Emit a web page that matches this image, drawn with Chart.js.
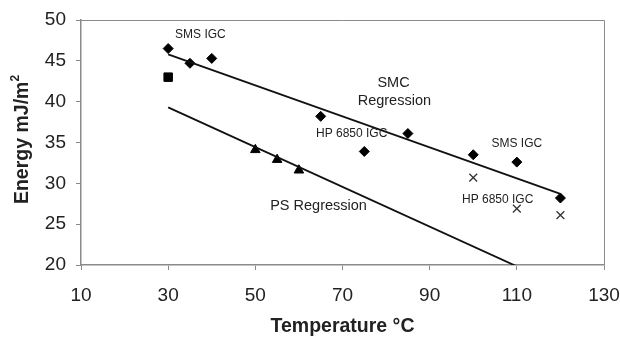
<!DOCTYPE html>
<html>
<head>
<meta charset="utf-8">
<script src="https://cdn.jsdelivr.net/npm/chart.js@4"></script>
<style>
html,body{margin:0;padding:0;background:#fff;}
#wrap{width:620px;height:343px;}
</style>
</head>
<body>
<div id="wrap"><canvas id="c" width="620" height="343"></canvas></div>
<script>
// ---- data ----
const smcTemps = [30, 35, 40, 65, 75, 85, 100, 110, 120];
const smcEnergy = [46.5, 44.7, 45.3, 38.2, 33.9, 36.1, 33.5, 32.6, 28.2];
const hpTemps = [100, 110, 120];
const hpEnergy = [30.7, 26.9, 26.1];
const squareTemps = [30];
const squareEnergy = [43.0];
const psTemps = [50, 55, 60];
const psEnergy = [34.1, 32.9, 31.6];
const smcRegTemps = [30, 120];
const smcRegEnergy = [45.8, 28.7];
const psRegTemps = [30, 120];
const psRegEnergy = [39.3, 17.4];
const xTicks = [10, 30, 50, 70, 90, 110, 130];
const yTicks = [20, 25, 30, 35, 40, 45, 50];
const annotations = [
  {text: 'SMS IGC', x: 37.4, y: 48.2, size: 12},
  {text: 'SMC', x: 81.7, y: 42.3, size: 14.5},
  {text: 'Regression', x: 81.9, y: 40.1, size: 14.5},
  {text: 'HP 6850 IGC', x: 72.1, y: 36.05, size: 12},
  {text: 'SMS IGC', x: 110.0, y: 34.8, size: 12},
  {text: 'HP 6850 IGC', x: 105.6, y: 28.0, size: 12},
  {text: 'PS Regression', x: 64.5, y: 27.2, size: 14.5}
];

const zip = (xs, ys) => xs.map((x, i) => ({x: x, y: ys[i]}));
const FONT = '"Liberation Sans", Arial, sans-serif';
const TXT = '#222';
const AX = '#8a8a8a';

const extras = {
  id: 'extras',
  afterDraw(chart) {
    const ctx = chart.ctx;
    const a = chart.chartArea;
    const xs = chart.scales.x, ys = chart.scales.y;
    ctx.save();
    // top & right border of the plot box
    ctx.strokeStyle = AX;
    ctx.lineWidth = 1;
    ctx.beginPath();
    ctx.moveTo(a.left, a.top + 0.5);
    ctx.lineTo(a.right + 0.5, a.top + 0.5);
    ctx.lineTo(a.right + 0.5, a.bottom);
    ctx.stroke();
    // annotations
    ctx.fillStyle = TXT;
    ctx.textAlign = 'center';
    ctx.textBaseline = 'middle';
    annotations.forEach(an => {
      ctx.font = an.size + 'px ' + FONT;
      ctx.fillText(an.text, xs.getPixelForValue(an.x), ys.getPixelForValue(an.y));
    });
    // axis titles
    ctx.font = 'bold 19.5px ' + FONT;
    ctx.fillText('Temperature \u00B0C', (a.left + a.right) / 2, 327);
    ctx.translate(23, (a.top + a.bottom) / 2 - 3);
    ctx.rotate(-Math.PI / 2);
    const main = 'Energy mJ/m';
    const w1 = ctx.measureText(main).width;
    ctx.font = 'bold 12px ' + FONT;
    const w2 = ctx.measureText('2').width;
    ctx.font = 'bold 19.5px ' + FONT;
    ctx.textAlign = 'left';
    const start = -(w1 + w2) / 2;
    ctx.fillText(main, start, 0);
    ctx.font = 'bold 12px ' + FONT;
    ctx.fillText('2', start + w1, -7);
    ctx.restore();
  }
};

new Chart(document.getElementById('c'), {
  type: 'scatter',
  data: {
    datasets: [
      {label: 'SMC Regression', type: 'line', data: zip(smcRegTemps, smcRegEnergy), borderColor: '#111', borderWidth: 1.8, pointRadius: 0, fill: false},
      {label: 'PS Regression', type: 'line', data: zip(psRegTemps, psRegEnergy), borderColor: '#111', borderWidth: 1.8, pointRadius: 0, fill: false},
      {label: 'SMC', data: zip(smcTemps, smcEnergy), pointStyle: 'rectRot', pointRadius: 5, backgroundColor: '#000', borderColor: '#000', borderWidth: 1},
      {label: 'HP', data: zip(hpTemps, hpEnergy), pointStyle: 'crossRot', pointRadius: 5.5, backgroundColor: '#333', borderColor: '#333', borderWidth: 1.3},
      {label: 'Square', data: zip(squareTemps, squareEnergy), pointStyle: 'rect', pointRadius: 6, backgroundColor: '#000', borderColor: '#000', borderWidth: 1},
      {label: 'PS', data: zip(psTemps, psEnergy), pointStyle: 'triangle', pointRadius: 5.5, backgroundColor: '#000', borderColor: '#000', borderWidth: 1}
    ]
  },
  options: {
    responsive: false,
    animation: false,
    layout: {padding: {left: 0, right: 16, top: 20, bottom: 0}},
    plugins: {legend: {display: false}, tooltip: {enabled: false}},
    scales: {
      x: {
        type: 'linear', min: 10, max: 130,
        afterBuildTicks: s => { s.ticks = xTicks.map(v => ({value: v})); },
        afterFit: s => { s.height = 78; s.paddingRight = 0; s.paddingLeft = 0; },
        grid: {drawOnChartArea: false, color: AX, tickLength: 5, tickColor: AX},
        border: {color: AX, width: 1.5},
        ticks: {color: TXT, font: {family: FONT, size: 19}, padding: 14, maxRotation: 0}
      },
      y: {
        type: 'linear', min: 20, max: 50,
        afterBuildTicks: s => { s.ticks = yTicks.map(v => ({value: v})); },
        afterFit: s => { s.width = 81; s.paddingTop = 0; s.paddingBottom = 0; },
        grid: {drawOnChartArea: false, color: AX, tickLength: 5, tickColor: AX},
        border: {color: AX, width: 1.5},
        ticks: {color: TXT, font: {family: FONT, size: 19}, padding: 10}
      }
    }
  },
  plugins: [extras]
});
</script>
</body>
</html>
